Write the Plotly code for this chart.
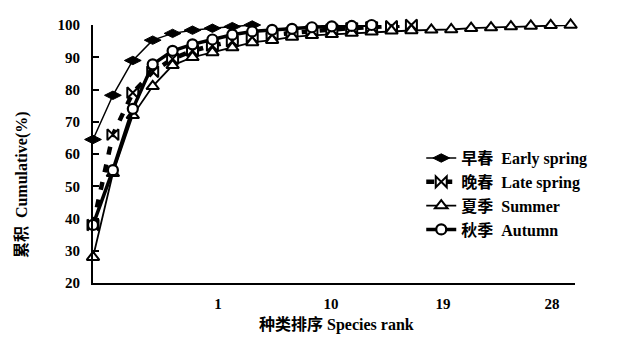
import plotly.graph_objects as go

# ---- data ----
early_spring = [64.5, 78.2, 89.0, 95.3, 97.4, 98.4, 99.0, 99.5, 100.0]
late_spring = [38.0, 66.0, 79.0, 85.5, 89.5, 92.0, 93.6, 95.0, 96.2, 97.0,
               97.6, 98.2, 98.6, 99.0, 99.3, 99.6, 100.0]
summer = [28.0, 54.0, 72.0, 81.0, 87.5, 90.0, 91.5, 93.0, 94.6, 95.3,
          96.3, 96.8, 97.1, 97.5, 97.9, 98.2, 98.3, 98.5, 98.6, 99.0,
          99.2, 99.5, 99.7, 99.9, 100.0]
autumn = [38.0, 55.0, 74.0, 87.8, 92.0, 94.0, 95.5, 97.0, 98.0, 98.5,
          98.8, 99.3, 99.6, 99.7, 100.0]

x_tick_vals = [7.28, 12.96, 18.59, 24.07]
x_tick_text = ["1", "10", "19", "28"]
y_tick_vals = [20, 30, 40, 50, 60, 70, 80, 90, 100]

names = ["早春  Early spring", "晚春  Late spring", "夏季  Summer", "秋季  Autumn"]

FONT = "Liberation Serif, Times New Roman, Noto Sans CJK SC, serif"

def ranks(vals):
    return list(range(1, len(vals) + 1))

fig = go.Figure()

fig.add_trace(go.Scatter(
    x=ranks(early_spring), y=early_spring, name=names[0], mode="lines+markers",
    line=dict(color="black", width=1.5),
    marker=dict(symbol="diamond-wide", size=12, color="black", line=dict(color="black", width=1)),
    cliponaxis=False))
fig.add_trace(go.Scatter(
    x=ranks(late_spring), y=late_spring, name=names[1], mode="lines+markers",
    line=dict(color="black", width=4.5, dash="8px,10px"),
    marker=dict(symbol="bowtie", size=11, color="white", line=dict(color="black", width=2)),
    cliponaxis=False))
fig.add_trace(go.Scatter(
    x=ranks(summer), y=summer, name=names[2], mode="lines+markers",
    line=dict(color="black", width=1.8),
    marker=dict(symbol="triangle-up", size=11, color="white", line=dict(color="black", width=2)),
    cliponaxis=False))
fig.add_trace(go.Scatter(
    x=ranks(autumn), y=autumn, name=names[3], mode="lines+markers",
    line=dict(color="black", width=3.5),
    marker=dict(symbol="circle", size=10, color="white", line=dict(color="black", width=2.2)),
    cliponaxis=False))

fig.update_layout(
    width=630, height=337,
    margin=dict(l=85, r=63, t=9, b=62),
    paper_bgcolor="white", plot_bgcolor="white",
    font=dict(family=FONT, size=15, color="black"),
    showlegend=True,
    legend=dict(x=0.681, y=0.55, xanchor="left", yanchor="top",
                bgcolor="rgba(0,0,0,0)",
                font=dict(family=FONT, size=16, color="black", weight="bold"),
                tracegroupgap=0),
    annotations=[
        dict(text="累积  Cumulative(%)", xref="paper", yref="paper",
             x=-0.147, y=0.38, xanchor="center", yanchor="middle",
             textangle=-90, showarrow=False,
             font=dict(family=FONT, size=16, weight="bold")),
        dict(text="种类排序 Species rank", xref="paper", yref="paper",
             x=0.506, y=-0.162, xanchor="center", yanchor="middle",
             showarrow=False, font=dict(family=FONT, size=16, weight="bold")),
    ],
)

fig.update_xaxes(range=[1, 25.22], showgrid=False, zeroline=False,
                 showline=True, linecolor="black", linewidth=2,
                 tickmode="array", tickvals=x_tick_vals, ticktext=x_tick_text,
                 ticks="", ticklabelstandoff=6,
                 tickfont=dict(family=FONT, size=15, weight="bold"))
fig.update_yaxes(range=[20, 100], showgrid=False, zeroline=False,
                 showline=True, linecolor="black", linewidth=2,
                 tickmode="array", tickvals=y_tick_vals,
                 ticks="inside", ticklen=6, tickwidth=1.5, tickcolor="black",
                 ticklabelstandoff=8,
                 tickfont=dict(family=FONT, size=15, weight="bold"))

fig.write_html("out.html")
